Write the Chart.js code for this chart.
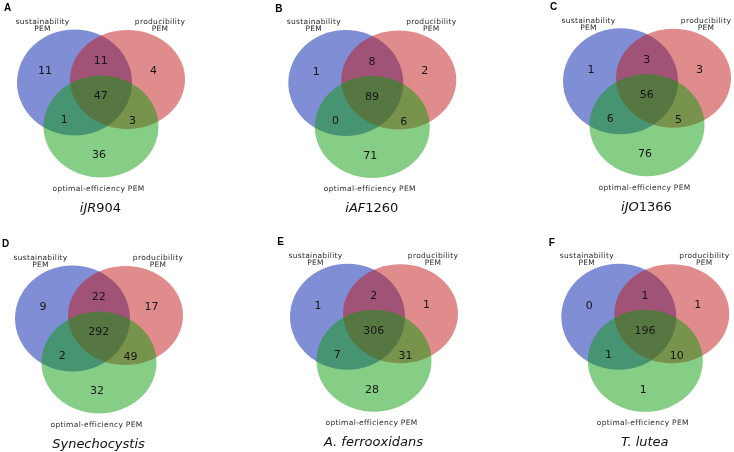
<!DOCTYPE html>
<html>
<head>
<meta charset="utf-8">
<script src="https://cdn.jsdelivr.net/npm/chart.js@4.4.1/dist/chart.umd.min.js"></script>
<style>
html, body { margin: 0; padding: 0; background: #fff; }
#grid { position: relative; width: 734px; height: 452px; }
#grid canvas { position: absolute; }
</style>
</head>
<body>
<div id="grid"></div>
<script>
const panel_letters = ["A", "B", "C", "D", "E", "F"];

// [italic part, upright part]
const model_names = [
  ["iJR", "904"],
  ["iAF", "1260"],
  ["iJO", "1366"],
  ["Synechocystis", ""],
  ["A. ferrooxidans", ""],
  ["T. lutea", ""]];

const set_labels = [
  ["sustainability", "PEM"],
  ["producibility", "PEM"],
  ["optimal-efficiency PEM"]];

// region order: S only, S&P, P only, S&P&O, S&O, P&O, O only
const counts_A = [11, 11, 4, 47, 1, 3, 36];
const counts_B = [1, 8, 2, 89, 0, 6, 71];
const counts_C = [1, 3, 3, 56, 6, 5, 76];
const counts_D = [9, 22, 17, 292, 2, 49, 32];
const counts_E = [1, 2, 1, 306, 7, 31, 28];
const counts_F = [0, 1, 1, 196, 1, 10, 1];

const panel_counts = [counts_A, counts_B, counts_C, counts_D, counts_E, counts_F];

// ---- layout (pixels inside each 245x226 panel) ----
const panel_origin = [[0, 0], [245, 0], [489, 0], [0, 226], [245, 226], [489, 226]];
const blue_center = [[74.5, 82.5], [100.8, 83], [131.5, 81.2], [72.5, 92.5], [102.5, 90.7], [129.8, 90.8]];
const circle_offset = [[0, 0], [53, -3], [26.5, 44]];
const circle_rx = 57.5;
const circle_ry = [53, 49.5, 51];
const circle_fill = ["rgba(2,30,172,0.5)", "rgba(196,26,26,0.5)", "rgba(14,156,14,0.5)"];
const region_offset = [[-29.5, -11], [26.3, -21], [79, -11.5], [26.3, 14], [-10.3, 38], [58, 39], [24.5, 73]];

const label_font = "7.5px 'DejaVu Sans'";

function vennPlugin(panel) {
  return {
    id: "venn",
    afterDatasetsDraw(chart) {
      var ctx = chart.ctx;
      var xs = chart.scales.x;
      var ys = chart.scales.y;
      var pts = chart.data.datasets[0].data;
      var bx = pts[0].x, by = pts[0].y;
      var px = function (dx) { return xs.getPixelForValue(bx + dx); };
      var py = function (dy) { return ys.getPixelForValue(by + dy); };

      ctx.save();
      // circles
      pts.forEach(function (p, i) {
        var cx = xs.getPixelForValue(p.x);
        var cy = ys.getPixelForValue(p.y);
        var rx = Math.abs(xs.getPixelForValue(p.x + circle_rx) - cx);
        var ry = Math.abs(ys.getPixelForValue(p.y + circle_ry[i]) - cy);
        ctx.beginPath();
        ctx.ellipse(cx, cy, rx, ry, 0, 0, Math.PI * 2);
        ctx.fillStyle = circle_fill[i];
        ctx.fill();
      });

      // counts
      ctx.textAlign = "center";
      ctx.textBaseline = "middle";
      ctx.fillStyle = "#161616";
      ctx.font = "11px 'DejaVu Sans'";
      panel_counts[panel].forEach(function (v, i) {
        ctx.fillText(String(v), px(region_offset[i][0]), py(region_offset[i][1]));
      });

      // set labels
      ctx.fillStyle = "#2a2a2a";
      ctx.font = label_font;
      ctx.letterSpacing = "0.3px";
      ctx.fillText(set_labels[0][0], px(-32), py(-60.5));
      ctx.fillText(set_labels[0][1], px(-32), py(-53.5));
      ctx.fillText(set_labels[1][0], px(85.5), py(-60.5));
      ctx.fillText(set_labels[1][1], px(85.5), py(-53.5));
      ctx.fillText(set_labels[2][0], px(24), py(106.5));
      ctx.letterSpacing = "0px";

      // panel letter
      ctx.fillStyle = "#000";
      ctx.font = "bold 10px 'Liberation Sans'";
      ctx.fillText(panel_letters[panel], px(-67), py(-74));

      // model name
      var name = model_names[panel];
      ctx.fillStyle = "#111";
      ctx.font = "italic 13px 'DejaVu Sans'";
      var w1 = ctx.measureText(name[0]).width;
      ctx.font = "13px 'DejaVu Sans'";
      var w2 = ctx.measureText(name[1]).width;
      var left = px(26) - (w1 + w2) / 2;
      ctx.textAlign = "left";
      ctx.font = "italic 13px 'DejaVu Sans'";
      ctx.fillText(name[0], left, py(126));
      ctx.font = "13px 'DejaVu Sans'";
      ctx.fillText(name[1], left + w1, py(126));
      ctx.restore();
    }
  };
}

function makePanel(panel) {
  var canvas = document.createElement("canvas");
  canvas.width = 245;
  canvas.height = 226;
  canvas.style.left = panel_origin[panel][0] + "px";
  canvas.style.top = panel_origin[panel][1] + "px";
  document.getElementById("grid").appendChild(canvas);

  var b = blue_center[panel];
  var centers = circle_offset.map(function (o) { return { x: b[0] + o[0], y: b[1] + o[1] }; });

  new Chart(canvas, {
    type: "scatter",
    data: {
      datasets: [{
        data: centers,
        pointRadius: 0
      }]
    },
    options: {
      responsive: false,
      animation: false,
      events: [],
      layout: { padding: 0 },
      scales: {
        x: { type: "linear", min: 0, max: 245, display: false },
        y: { type: "linear", min: 0, max: 226, reverse: true, display: false }
      },
      plugins: {
        legend: { display: false },
        tooltip: { enabled: false }
      }
    },
    plugins: [vennPlugin(panel)]
  });
}

for (var i = 0; i < 6; i++) {
  makePanel(i);
}
</script>
</body>
</html>
